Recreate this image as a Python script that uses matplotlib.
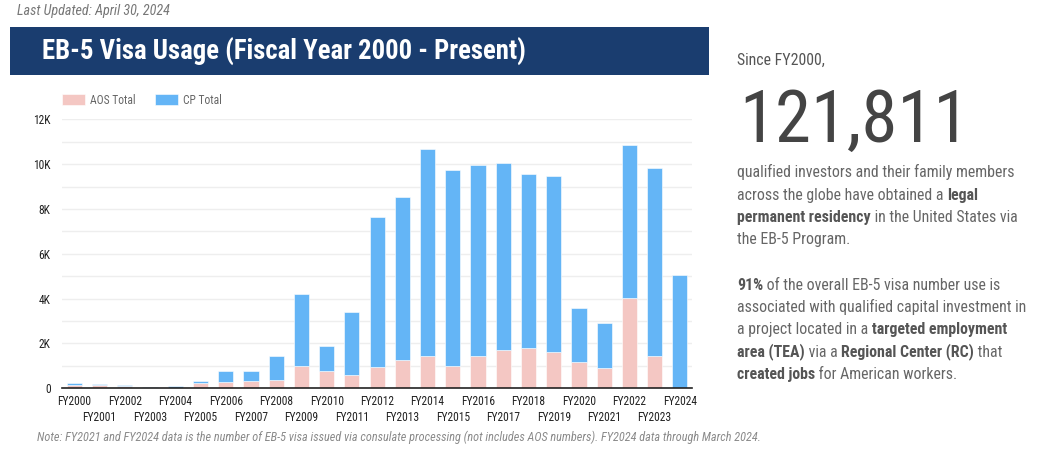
import matplotlib
matplotlib.use("Agg")
import matplotlib.pyplot as plt
from matplotlib import font_manager as fm
from matplotlib.patches import Rectangle

# ---------------- data ----------------
years = ["FY2000", "FY2001", "FY2002", "FY2003", "FY2004", "FY2005", "FY2006",
         "FY2007", "FY2008", "FY2009", "FY2010", "FY2011", "FY2012", "FY2013",
         "FY2014", "FY2015", "FY2016", "FY2017", "FY2018", "FY2019", "FY2020",
         "FY2021", "FY2022", "FY2023", "FY2024"]
aos_total = [160, 130, 115, 15, 20, 220, 270, 310, 360, 1000, 770, 590, 960, 1260,
             1430, 1010, 1440, 1700, 1800, 1620, 1170, 920, 4020, 1440, 0]
cp_total = [90, 60, 45, 55, 95, 120, 520, 480, 1070, 3200, 1110, 2830, 6660, 7280,
            9240, 8735, 8500, 8370, 7780, 7840, 2430, 2000, 6855, 8395, 5045]
y_ticks = [0, 2000, 4000, 6000, 8000, 10000, 12000]
y_tick_labels = ["0", "2K", "4K", "6K", "8K", "10K", "12K"]
series_names = ["AOS Total", "CP Total"]

W, H = 1046, 455


def pick(cands, default):
    for c in cands:
        try:
            fm.findfont(fm.FontProperties(family=c), fallback_to_default=False)
            return c
        except Exception:
            pass
    return default


COND = pick(["Roboto Condensed", "Liberation Sans Narrow", "Arial Narrow",
             "DejaVu Sans Condensed"], "Roboto")
plt.rcParams["font.family"] = [COND, "Roboto", "DejaVu Sans"]

PINK = "#f4c7c3"
BLUE = "#64b5f6"
NAVY = "#1a3d6f"
BODY = 11.4

fig = plt.figure(figsize=(W / 100, H / 100), dpi=100)
fig.patch.set_facecolor("white")


def fx(px):
    return px / W


def fy(py):
    return 1 - py / H


# header
fig.text(fx(17), fy(15), "Last Updated: April 30, 2024", fontsize=10.2,
         style="italic", color="#777777", va="baseline", ha="left")
fig.patches.append(Rectangle((fx(10), fy(75)), fx(709) - fx(10), fy(27) - fy(75),
                             transform=fig.transFigure, facecolor=NAVY,
                             edgecolor="none", zorder=0))
fig.text(fx(42), fy(60), "EB-5 Visa Usage (Fiscal Year 2000 - Present)",
         fontsize=19.3, fontweight="bold", color="white", va="baseline", ha="left")

# chart
ax = fig.add_axes([fx(61.7), 66.7 / H, (692.5 - 61.7) / W, (388.3 - 119.3) / H])
x = list(range(len(years)))
b1 = ax.bar(x, aos_total, width=0.6, color=PINK, edgecolor="white", linewidth=0.4,
            label=series_names[0], zorder=2)
b2 = ax.bar(x, cp_total, width=0.6, bottom=aos_total, color=BLUE, edgecolor="white",
            linewidth=0.4, label=series_names[1], zorder=2)
ax.set_xlim(-0.5, len(years) - 0.5)
ax.set_ylim(0, 12000)
ax.set_yticks(y_ticks, y_tick_labels)
ax.set_yticks(range(0, 12001, 1000), minor=True)
ax.grid(axis="y", which="both", color="#eeeeee", linewidth=1, zorder=0)
ax.set_axisbelow(True)
for s in ["top", "right", "left"]:
    ax.spines[s].set_visible(False)
ax.spines["bottom"].set_color("#222222")
ax.spines["bottom"].set_linewidth(1.2)
ax.spines["bottom"].set_zorder(3)
ax.tick_params(axis="y", which="both", length=0, pad=8, labelsize=8.3, labelcolor="#222222")
even = [i for i in x if i % 2 == 0]
odd = [i for i in x if i % 2 == 1]
ax.set_xticks(even, [years[i] for i in even])
ax.set_xticks(odd, [years[i] for i in odd], minor=True)
ax.tick_params(axis="x", which="major", length=0, pad=4.5, labelsize=8.3, labelcolor="#222222")
ax.tick_params(axis="x", which="minor", length=0, pad=16, labelsize=8.3, labelcolor="#222222")

leg = fig.legend(handles=[b1, b2], labels=series_names, loc="center left",
                 bbox_to_anchor=(fx(61.7), fy(100)), ncol=2, frameon=False,
                 fontsize=8.3, handlelength=2.0, handleheight=1.0,
                 handletextpad=0.45, columnspacing=1.7, borderaxespad=0,
                 borderpad=0)
for t in leg.get_texts():
    t.set_color("#666666")

# note
fig.text(fx(37), fy(441),
         "Note: FY2021 and FY2024 data is the number of EB-5 visa issued via consulate "
         "processing (not includes AOS numbers). FY2024 data through March 2024.",
         fontsize=8.8, style="italic", color="#8a8a8a", va="baseline", ha="left")

# right panel
fig.text(fx(737), fy(65), "Since FY2000,", fontsize=BODY, color="#555555",
         va="baseline", ha="left")
fig.text(fx(739), fy(141.7), "121,811", fontsize=52.5, color="#444444",
         va="baseline", ha="left")

renderer = fig.canvas.get_renderer()


def text_width(s, weight):
    t1 = fig.text(0, 0, "|" + s + "|", fontsize=BODY, fontweight=weight)
    t2 = fig.text(0, 0, "||", fontsize=BODY, fontweight=weight)
    w = t1.get_window_extent(renderer).width - t2.get_window_extent(renderer).width
    t1.remove()
    t2.remove()
    return w


def rich_line(px, py, runs):
    cur = px
    for s, bold in runs:
        weight = "bold" if bold else "normal"
        fig.text(fx(cur), fy(py), s, fontsize=BODY, fontweight=weight,
                 color="#555555" if bold else "#666666", va="baseline", ha="left")
        cur += text_width(s, weight)


lines = [
    (176.7, [("qualified investors and their family members", False)]),
    (200.0, [("across the globe have obtained a ", False), ("legal", True)]),
    (221.7, [("permanent residency", True), (" in the United States via", False)]),
    (244.0, [("the EB-5 Program.", False)]),
    (290.0, [("91%", True), (" of the overall EB-5 visa number use is", False)]),
    (311.7, [("associated with qualified capital investment in", False)]),
    (334.3, [("a project located in a ", False), ("targeted employment", True)]),
    (356.7, [("area (TEA)", True), (" via a ", False), ("Regional Center (RC)", True),
             (" that", False)]),
    (379.3, [("created jobs", True), (" for American workers.", False)]),
]
for py, runs in lines:
    rich_line(737, py, runs)

fig.savefig("out.png", dpi=100, facecolor="white")
